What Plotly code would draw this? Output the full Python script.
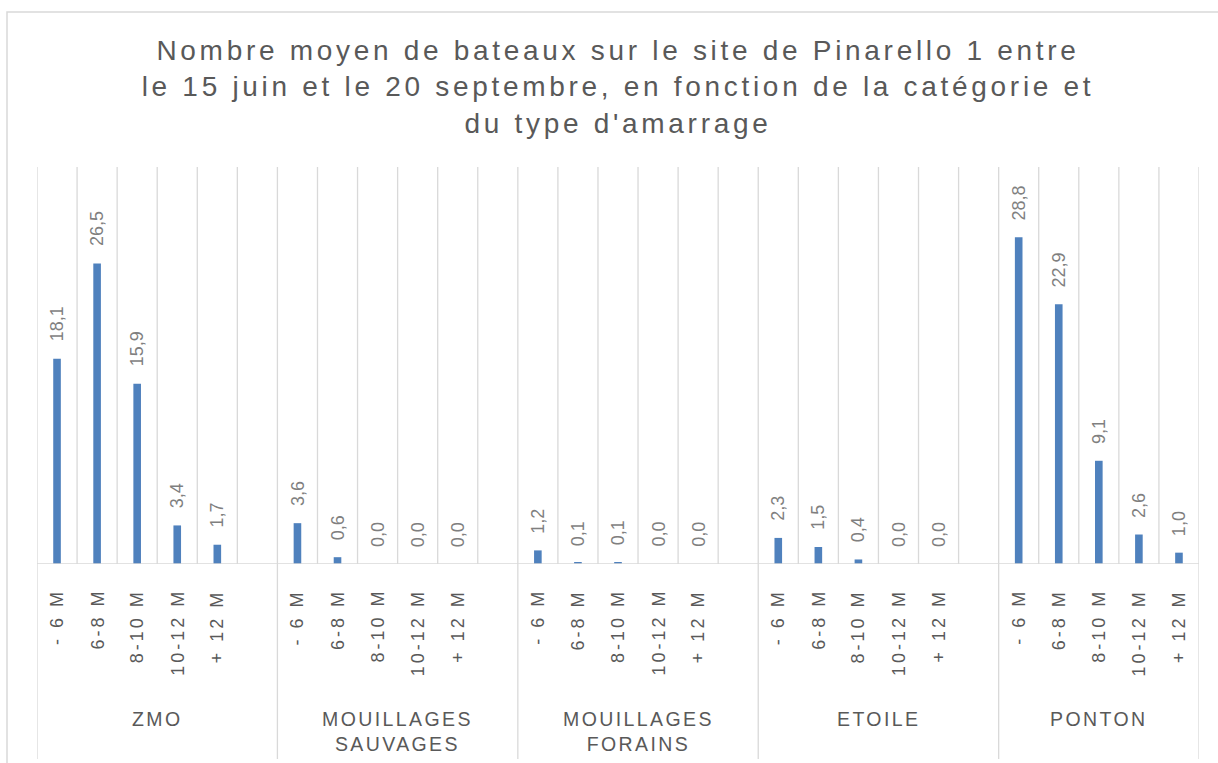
import plotly.graph_objects as go

# ---------------- data ----------------
groups = ["ZMO", "MOUILLAGES SAUVAGES", "MOUILLAGES FORAINS", "ETOILE", "PONTON"]
sizes = ["- 6 M", "6-8 M", "8-10 M", "10-12 M", "+ 12 M"]
zmo = [18.1, 26.5, 15.9, 3.4, 1.7]
mouillages_sauvages = [3.6, 0.6, 0.0, 0.0, 0.0]
mouillages_forains = [1.2, 0.1, 0.1, 0.0, 0.0]
etoile = [2.3, 1.5, 0.4, 0.0, 0.0]
ponton = [28.8, 22.9, 9.1, 2.6, 1.0]
series = [zmo, mouillages_sauvages, mouillages_forains, etoile, ponton]
title_lines = [
    "Nombre moyen de bateaux sur le site de Pinarello 1 entre",
    "le 15 juin et le 20 septembre, en fonction de la catégorie et",
    "du type d'amarrage",
]

# ---------------- layout constants ----------------
W, H = 1218, 763
L, R, T, B = 37, 19, 167, 199
PH = H - T - B
YMAX = 35
BAR_COLOR = "#4F81BD"
GRID = "#D9D9D9"
FONT = "Liberation Sans, Arial, sans-serif"


def py(p):
    """pixel y -> paper y"""
    return (H - B - p) / PH


def px(p):
    return (p - L) / (W - L - R)


slot = len(sizes) + 1  # one blank slot between groups
n_slots = slot * (len(groups) - 1) + len(sizes)

xs, ys, labels = [], [], []
for gi, vals in enumerate(series):
    for j, v in enumerate(vals):
        xs.append(gi * slot + j)
        ys.append(v)
        labels.append(f"{v:.1f}".replace(".", ","))

fig = go.Figure()
fig.add_trace(go.Bar(x=xs, y=ys, width=0.19, marker=dict(color=BAR_COLOR, line=dict(width=0)),
                     hoverinfo="skip"))

shapes = []
# vertical gridlines at every slot boundary
for k in range(n_slots + 1):
    xb = k - 0.5
    shapes.append(dict(type="line", xref="x", yref="y", x0=xb, x1=xb, y0=0, y1=YMAX,
                       line=dict(color=GRID, width=1.3), layer="below"))
# group separators extending below axis
group_bounds = [gi * slot - 0.5 for gi in range(len(groups))] + [n_slots - 0.5]
for xb in group_bounds:
    shapes.append(dict(type="line", xref="x", yref="paper", x0=xb, x1=xb, y0=0, y1=py(759),
                       line=dict(color=GRID, width=1.3)))
# baseline
shapes.append(dict(type="line", xref="x", yref="y", x0=-0.5, x1=n_slots - 0.5, y0=0, y1=0,
                   line=dict(color=GRID, width=1.3)))
# chart area border
shapes.append(dict(type="rect", xref="paper", yref="paper", x0=px(7), x1=px(1240), y0=py(12), y1=py(800),
                   line=dict(color=GRID, width=1.5)))

annotations = []
# data labels
for x, y, t in zip(xs, ys, labels):
    annotations.append(dict(x=x, y=y, xref="x", yref="y", text=t, textangle=-90, showarrow=False,
                            xanchor="center", yanchor="bottom", yshift=15,
                            font=dict(family=FONT, size=18, color="#7F7F7F")))
# size labels
for gi in range(len(groups)):
    for j, s in enumerate(sizes):
        annotations.append(dict(x=gi * slot + j, y=py(587), xref="x", yref="paper",
                                text=f'<span style="letter-spacing:3px">{s}</span>', textangle=-90,
                                showarrow=False, xanchor="center", yanchor="top",
                                font=dict(family=FONT, size=18, color="#595959")))
# group labels
for gi, g in enumerate(groups):
    x0 = group_bounds[gi]
    x1 = group_bounds[gi + 1]
    lines = g.split(" ")
    txt = "<br>".join(f'<span style="letter-spacing:2.4px">{ln}</span>' for ln in lines)
    annotations.append(dict(x=(x0 + x1) / 2, y=py(706), xref="x", yref="paper", text=txt,
                            showarrow=False, xanchor="center", yanchor="top",
                            font=dict(family=FONT, size=19.5, color="#595959")))

title_text = "<br>".join(f'<span style="letter-spacing:3.7px">{ln}</span>' for ln in title_lines)

fig.update_layout(
    width=W, height=H, autosize=False,
    margin=dict(l=L, r=R, t=T, b=B, pad=0),
    paper_bgcolor="white", plot_bgcolor="white",
    showlegend=False,
    title=dict(text=title_text, x=0.5, xref="paper", xanchor="center",
               y=1 - 60 / H, yref="container", yanchor="top",
               font=dict(family=FONT, size=28, color="#595959")),
    xaxis=dict(range=[-0.5, n_slots - 0.5], showgrid=False, showticklabels=False, zeroline=False,
               showline=False, ticks=""),
    yaxis=dict(range=[0, YMAX], showgrid=False, showticklabels=False, zeroline=False,
               showline=False, ticks=""),
    shapes=shapes,
    annotations=annotations,
    separators=", ",
)

fig.write_html("out.html", config={"displayModeBar": False},
               post_script="document.body.style.margin='0';")
